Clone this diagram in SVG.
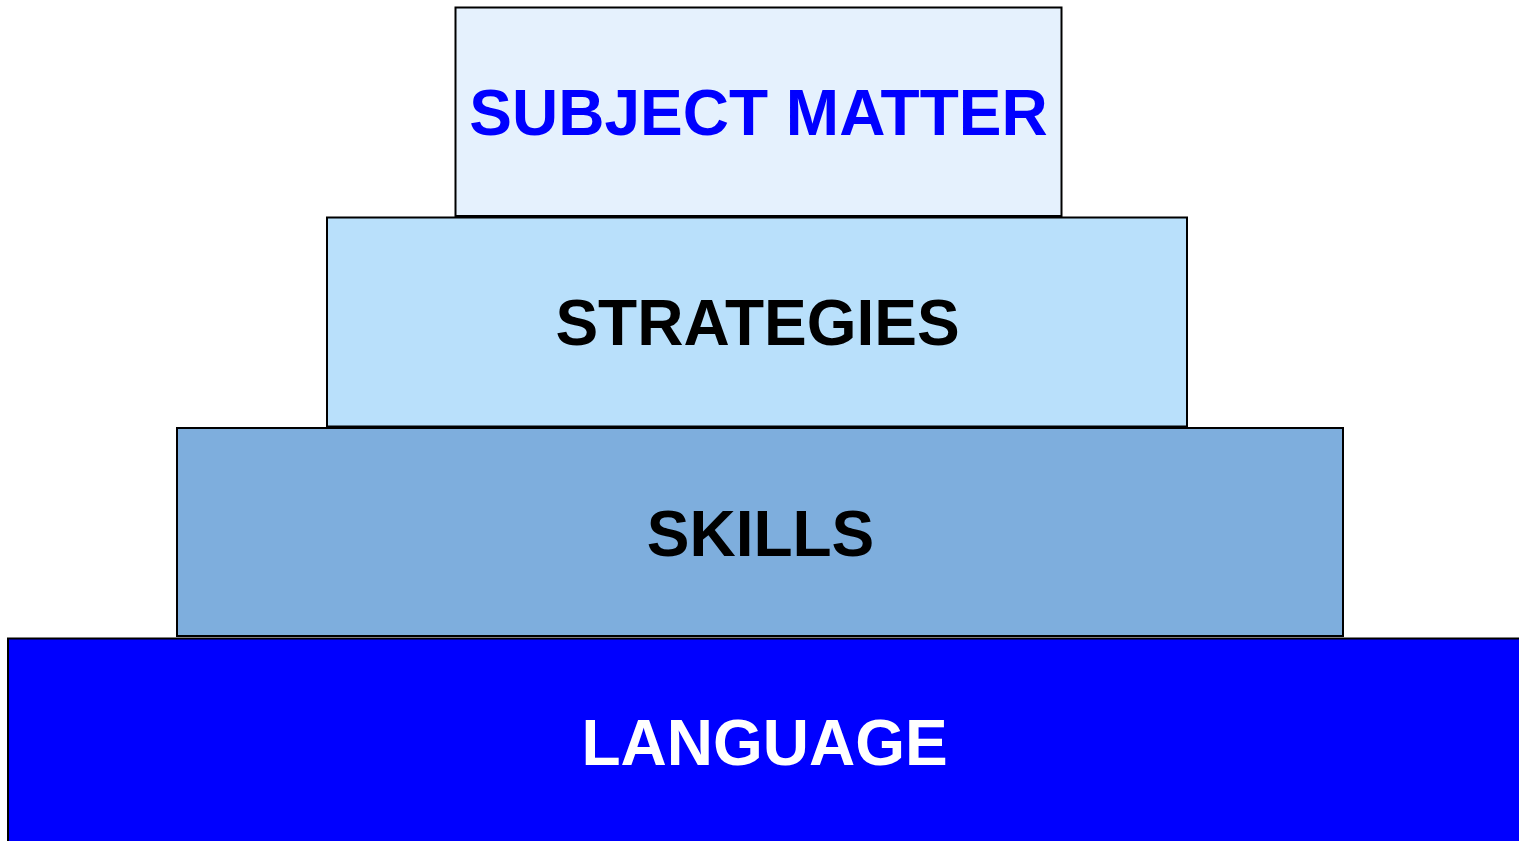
<svg xmlns="http://www.w3.org/2000/svg" width="1519" height="841" viewBox="0 0 1519 841">
<style>
.box{stroke:#000;stroke-width:2}
.lbl{font-family:"Liberation Sans",Arial,sans-serif;font-weight:bold;font-size:64px;text-anchor:middle}
</style>
<rect width="1519" height="841" fill="#fff"/>
<g id="language">
<rect class="box" x="8" y="638.5" width="1514" height="210" fill="#0000FF"/>
<text class="lbl" x="764.5" y="765" fill="#fff">LANGUAGE</text>
</g>
<g id="skills">
<rect class="box" x="177" y="428" width="1166" height="208" fill="#7EAEDD"/>
<text class="lbl" x="760.5" y="556" fill="#000">SKILLS</text>
</g>
<g id="strategies">
<rect class="box" x="327" y="217.5" width="860" height="209" fill="#B9E0FB"/>
<text class="lbl" x="757.5" y="345" fill="#000">STRATEGIES</text>
</g>
<g id="subject-matter">
<rect class="box" x="455.5" y="7.5" width="606" height="208.5" fill="#E5F1FD"/>
<text class="lbl" x="758.5" y="135" fill="#0000FF">SUBJECT MATTER</text>
</g>
<g id="connectors"/>
</svg>
